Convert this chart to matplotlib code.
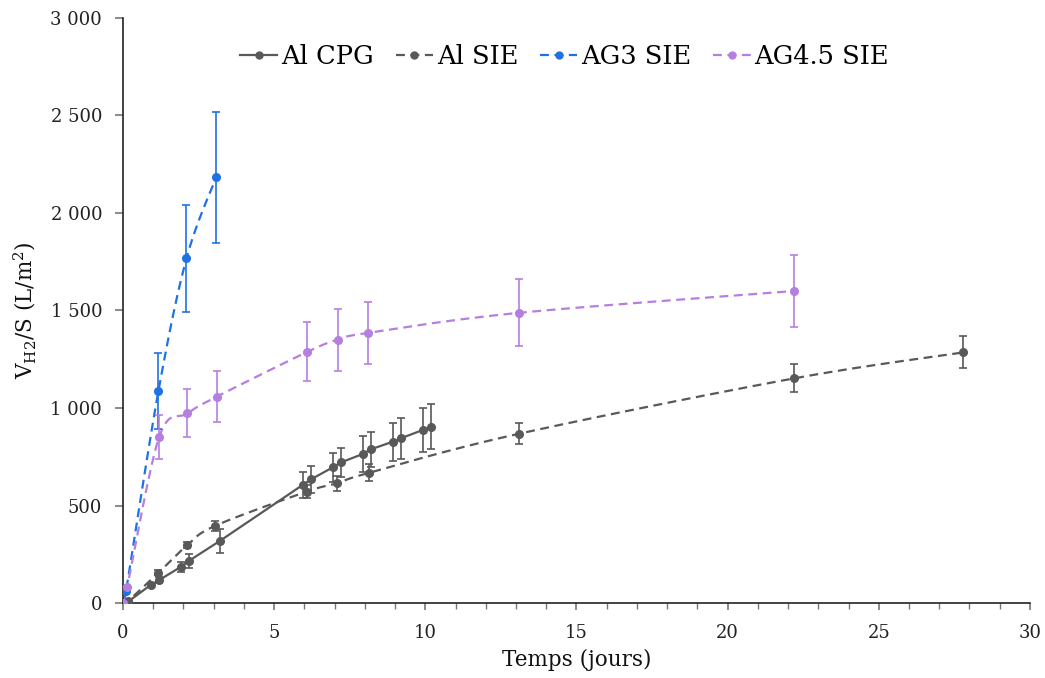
import numpy as np
import matplotlib
matplotlib.use("Agg")
import matplotlib.pyplot as plt
from matplotlib.ticker import FuncFormatter, MultipleLocator

# ---- data ----
al_cpg_x = [0, 0.17, 0.91, 1.2, 1.92, 2.19, 3.2, 5.94, 6.22, 6.93, 7.21, 7.93, 8.2, 8.92, 9.2, 9.91, 10.19]
al_cpg_y = [0, 7, 92, 118, 186, 217, 318, 605, 634, 695, 721, 764, 788, 827, 845, 887, 904]
al_cpg_e = [0, 3, 12, 14, 25, 35, 60, 68, 70, 72, 75, 90, 90, 98, 105, 111, 116]

al_sie_x = [0, 0.15, 1.17, 2.13, 3.05, 6.07, 7.09, 8.15, 13.1, 22.2, 27.8]
al_sie_y = [0, 8, 155, 297, 396, 571, 614, 668, 868, 1152, 1285]
al_sie_e = [0, 3, 12, 14, 25, 35, 38, 44, 55, 72, 82]

ag3_x = [0, 0.1, 1.17, 2.1, 3.08]
ag3_y = [0, 62, 1085, 1767, 2183]
ag3_e = [0, 5, 195, 273, 335]

ag45_x = [0, 0.14, 1.2, 2.13, 3.1, 6.1, 7.1, 8.1, 13.1, 22.2]
ag45_y = [0, 84, 853, 972, 1058, 1288, 1350, 1385, 1488, 1600]
ag45_e = [0, 5, 113, 123, 130, 152, 160, 160, 172, 185]

labels = ["Al CPG", "Al SIE", "AG3 SIE", "AG4.5 SIE"]
colors = ["#595959", "#595959", "#1f72e3", "#b57fe0"]

plt.rcParams['font.family'] = ['DejaVu Serif']
plt.rcParams['mathtext.fontset'] = 'dejavuserif'


def smooth(x, y, n=30):
    """Excel-like smoothed line (Catmull-Rom Bezier) through the points."""
    x = np.asarray(x, float); y = np.asarray(y, float)
    px = np.concatenate([[x[0]], x, [x[-1]]])
    py = np.concatenate([[y[0]], y, [y[-1]]])
    xs, ys = [], []
    t = np.linspace(0, 1, n)
    for i in range(1, len(px) - 2):
        p0 = np.array([px[i], py[i]]); p3 = np.array([px[i + 1], py[i + 1]])
        p1 = p0 + (np.array([px[i + 1], py[i + 1]]) - np.array([px[i - 1], py[i - 1]])) / 6
        p2 = p3 - (np.array([px[i + 2], py[i + 2]]) - np.array([px[i], py[i]])) / 6
        b = ((1 - t) ** 3)[:, None] * p0 + (3 * (1 - t) ** 2 * t)[:, None] * p1 + \
            (3 * (1 - t) * t ** 2)[:, None] * p2 + (t ** 3)[:, None] * p3
        xs.append(b[:, 0]); ys.append(b[:, 1])
    return np.concatenate(xs), np.concatenate(ys)


fig = plt.figure(figsize=(10.45, 6.78), dpi=100)
ax = fig.add_axes([0.1177, 0.1106, 0.8679, 0.8629])

series = [
    (al_cpg_x, al_cpg_y, al_cpg_e, '-', False),
    (al_sie_x, al_sie_y, al_sie_e, '--', True),
    (ag3_x, ag3_y, ag3_e, '--', True),
    (ag45_x, ag45_y, ag45_e, '--', True),
]
handles = []
for (x, y, e, ls, sm), lab, c in zip(series, labels, colors):
    if sm:
        sx, sy = smooth(x, y)
    else:
        sx, sy = x, y
    ax.plot(sx, sy, ls, color=c, lw=1.6, dashes=(4, 2.5) if ls == '--' else (None, None), zorder=2)
    ax.errorbar(x, y, yerr=e, fmt='o', color=c, ms=5.5, elinewidth=1.2, capsize=3, capthick=1.2, zorder=3)
    h, = ax.plot([], [], ls, color=c, lw=1.6, marker='o', ms=5,
                 dashes=(4, 2.5) if ls == '--' else (None, None))
    handles.append(h)

ax.set_xlim(0, 30)
ax.set_ylim(0, 3000)
ax.xaxis.set_major_locator(MultipleLocator(5))
ax.xaxis.set_minor_locator(MultipleLocator(1))
ax.yaxis.set_major_locator(MultipleLocator(500))
ax.yaxis.set_major_formatter(FuncFormatter(lambda v, p: f"{int(v):,}".replace(",", " ")))
for s in ['top', 'right']:
    ax.spines[s].set_visible(False)
for s in ['left', 'bottom']:
    ax.spines[s].set_color('#222222')
    ax.spines[s].set_linewidth(1.2)
ax.tick_params(axis='y', which='major', direction='out', length=6, width=1.2, color='#777777',
               labelsize=13, pad=9, labelcolor='#222222')
ax.tick_params(axis='x', which='major', direction='out', length=5, width=1.2, color='#777777',
               labelsize=13, pad=10, labelcolor='#222222')
ax.tick_params(axis='x', which='minor', direction='out', length=4, width=1.0, color='#777777')

ax.set_xlabel("Temps (jours)", fontsize=15.5, labelpad=5, color='#111111')
ax.set_ylabel(r"V$_{\mathrm{H2}}$/S (L/m$^{2}$)", fontsize=15.5, labelpad=9, color='#111111')

ax.legend(handles, labels, loc='upper center', bbox_to_anchor=(0.487, 0.995), ncol=4, frameon=False,
          fontsize=18.5, handlelength=1.45, handletextpad=0.15, columnspacing=0.85)

fig.savefig("out.png", dpi=100)
